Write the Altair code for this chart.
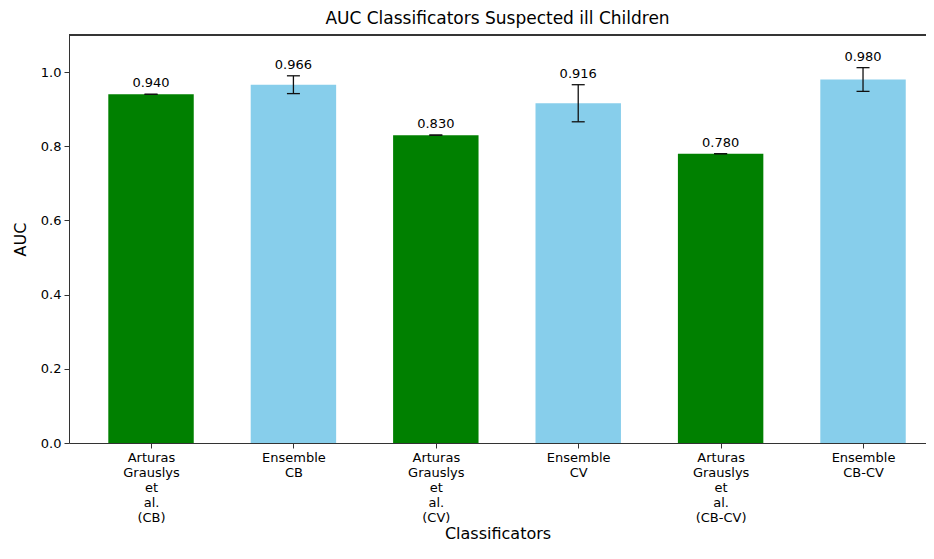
import altair as alt
import pandas as pd

labels = ["Arturas Grauslys et al. (CB)", "Ensemble CB", "Arturas Grauslys et al. (CV)",
          "Ensemble CV", "Arturas Grauslys et al. (CB-CV)", "Ensemble CB-CV"]
auc = [0.940, 0.966, 0.830, 0.916, 0.780, 0.980]
err = [0.0, 0.024, 0.0, 0.050, 0.0, 0.032]
kind = ["Arturas", "Ensemble", "Arturas", "Ensemble", "Arturas", "Ensemble"]

df = pd.DataFrame({"idx": list(range(len(labels))), "label": labels, "auc": auc,
                   "err": err, "kind": kind})

FONT = "DejaVu Sans"
W, H = 857, 408
PAD = {"left": 61, "top": 27, "right": 0, "bottom": 103}
arr = "[" + ",".join("'" + l + "'" for l in labels) + "]"

xscale = alt.Scale(domain=[-0.576, -0.576 + W / 142.4], nice=False, zero=False)
yscale = alt.Scale(domain=[0, 1.1], nice=False)

base = alt.Chart(df).transform_calculate(
    x0="datum.idx - 0.3", x1="datum.idx + 0.3",
    lo="datum.auc - datum.err", hi="datum.auc + datum.err",
    txt="format(datum.auc, '.3f')"
)

bars = base.mark_bar(opacity=1).encode(
    x=alt.X("x0:Q", scale=xscale, title="Classificators",
            axis=alt.Axis(values=list(range(len(labels))),
                          labelExpr="split(" + arr + "[datum.value], ' ')",
                          labelFont=FONT, labelFontSize=13, labelColor="#000",
                          labelLineHeight=15.2, labelPadding=3, labelBaseline="top",
                          tickSize=5, tickColor="#333", domainColor="#333",
                          titleFont=FONT, titleFontSize=16, titleFontWeight="normal",
                          titleColor="#000", titlePadding=1, grid=False)),
    x2="x1:Q",
    y=alt.Y("auc:Q", scale=yscale, title="AUC",
            axis=alt.Axis(values=[0, 0.2, 0.4, 0.6, 0.8, 1.0], format=".1f",
                          labelFont=FONT, labelFontSize=13, labelColor="#000",
                          labelPadding=3, tickSize=5, tickColor="#333",
                          domainColor="#333", titleFont=FONT, titleFontSize=16,
                          titleFontWeight="normal", titleColor="#000",
                          titlePadding=12, grid=False)),
    y2=alt.datum(0),
    color=alt.Color("kind:N", scale=alt.Scale(domain=["Arturas", "Ensemble"],
                                              range=["#008000", "#87CEEB"]),
                    legend=None),
)

stem = base.mark_rule(color="#111", strokeWidth=1.3).encode(
    x=alt.X("idx:Q", scale=xscale), y=alt.Y("lo:Q", scale=yscale), y2="hi:Q")
cap_hi = base.mark_rule(color="#111", strokeWidth=1.3, xOffset=-6.5, x2Offset=6.5).encode(
    x=alt.X("idx:Q", scale=xscale), x2="idx:Q", y=alt.Y("hi:Q", scale=yscale))
cap_lo = base.mark_rule(color="#111", strokeWidth=1.3, xOffset=-6.5, x2Offset=6.5).encode(
    x=alt.X("idx:Q", scale=xscale), x2="idx:Q", y=alt.Y("lo:Q", scale=yscale))

text = base.mark_text(font=FONT, fontSize=13, color="#000", baseline="bottom", dy=-4).encode(
    x=alt.X("idx:Q", scale=xscale), y=alt.Y("hi:Q", scale=yscale), text="txt:N")

top = alt.Chart(df).mark_rule(color="#333", strokeWidth=1).encode(
    x=alt.value(0), x2=alt.value(W), y=alt.value(0))

chart = alt.layer(bars, stem, cap_hi, cap_lo, text, top).properties(
    width=W, height=H,
    autosize=alt.AutoSizeParams(type="none"),
    padding=PAD,
    title=alt.TitleParams("AUC Classificators Suspected ill Children", font=FONT,
                          fontSize=17, fontWeight="normal", color="#000", offset=7),
).configure_view(stroke=None)

chart.save("out.html", embed_options={"renderer": "svg", "actions": False})
